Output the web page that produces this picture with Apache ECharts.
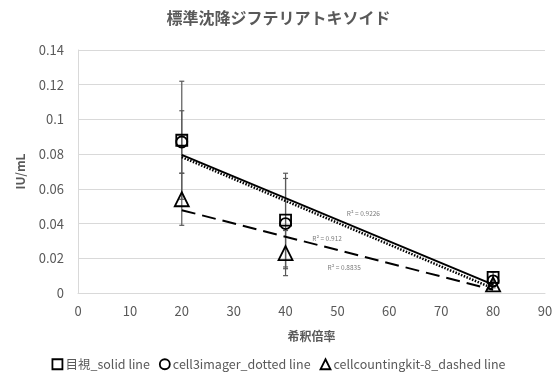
<!DOCTYPE html>
<html>
<head>
<meta charset="utf-8">
<script src="https://cdn.jsdelivr.net/npm/echarts@6/dist/echarts.min.js"></script>
<style>
  html, body { margin: 0; padding: 0; background: #fff; }
  #chart { width: 557px; height: 374px; }
</style>
</head>
<body>
<div id="chart"></div>
<script>
// Dilution factors and measured concentrations (IU/mL)
const dilution = [20, 40, 80];
const visual = [0.088, 0.042, 0.009];          // 目視
const imager = [0.087, 0.040, 0.007];          // cell3imager
const cck8 = [0.054, 0.023, 0.005];            // cellcountingkit-8
// Standard deviations
const visualErr = [0.034, 0.027, 0.003];
const imagerErr = [0.018, 0.026, 0.003];
const cck8Err = [0.015, 0.013, 0.002];
// R² values shown next to the trend lines
const r2Labels = ['R² = 0.9226', 'R² = 0.912', 'R² = 0.8835'];
const seriesNames = ['目視_solid line', 'cell3imager_dotted line', 'cellcountingkit-8_dashed line'];

const FONT = '"Noto Sans CJK JP", "Noto Sans", sans-serif';

// Least-squares fit, returned as two end points over the data range
function fit(xs, ys) {
  const n = xs.length;
  const mx = xs.reduce((a, b) => a + b, 0) / n;
  const my = ys.reduce((a, b) => a + b, 0) / n;
  let sxy = 0, sxx = 0;
  for (let i = 0; i < n; i++) {
    sxy += (xs[i] - mx) * (ys[i] - my);
    sxx += (xs[i] - mx) * (xs[i] - mx);
  }
  const k = sxy / sxx, b = my - k * mx;
  const x0 = xs[0], x1 = xs[n - 1];
  return [[x0, k * x0 + b], [x1, k * x1 + b]];
}

function errorSeries(vals, errs) {
  return {
    type: 'custom',
    silent: true,
    z: 1,
    data: dilution.map((x, i) => [x, vals[i] - errs[i], vals[i] + errs[i]]),
    renderItem: function (params, api) {
      const lo = api.coord([api.value(0), api.value(1)]);
      const hi = api.coord([api.value(0), api.value(2)]);
      const w = 2.5;
      const style = { stroke: '#595959', lineWidth: 1.2 };
      return {
        type: 'group',
        children: [
          { type: 'line', shape: { x1: lo[0], y1: lo[1], x2: hi[0], y2: hi[1] }, style },
          { type: 'line', shape: { x1: lo[0] - w, y1: lo[1], x2: lo[0] + w, y2: lo[1] }, style },
          { type: 'line', shape: { x1: hi[0] - w, y1: hi[1], x2: hi[0] + w, y2: hi[1] }, style }
        ]
      };
    }
  };
}

function markerSeries(name, vals, symbol, size) {
  return {
    name: name,
    type: 'scatter',
    z: 3,
    symbol: symbol,
    symbolSize: size,
    data: dilution.map((x, i) => [x, vals[i]]),
    itemStyle: { color: 'rgba(255,255,255,0)', borderColor: '#000', borderWidth: 1.8, opacity: 1 }
  };
}

function trendSeries(vals, lineType, width) {
  return {
    type: 'line',
    z: 2,
    symbol: 'none',
    silent: true,
    data: fit(dilution, vals),
    lineStyle: { color: '#000', width: width, type: lineType }
  };
}

// R² annotations placed beside the trend lines
const r2Pos = [[55, 0.0455], [48, 0.0311], [51.3, 0.0144]];
const r2Series = {
  type: 'scatter',
  silent: true,
  z: 4,
  symbolSize: 0,
  data: r2Pos.map((p, i) => ({ value: p, name: r2Labels[i] })),
  label: {
    show: true,
    position: 'inside',
    formatter: p => p.name,
    color: '#595959',
    fontSize: 6.5,
    fontFamily: FONT
  }
};

const chart = echarts.init(document.getElementById('chart'), null, { renderer: 'canvas' });
chart.setOption({
  animation: false,
  title: {
    text: '標準沈降ジフテリアトキソイド',
    left: 'center',
    top: 5,
    textStyle: { fontFamily: FONT, fontSize: 16, fontWeight: 'bold', color: '#595959' }
  },
  grid: { left: 78, right: 12, top: 50, bottom: 81 },
  legend: {
    top: 353,
    left: 'center',
    itemWidth: 10,
    itemHeight: 10,
    itemGap: 9,
    data: [
      { name: seriesNames[0], icon: 'rect' },
      { name: seriesNames[1], icon: 'circle' },
      { name: seriesNames[2], icon: 'triangle' }
    ],
    itemStyle: { color: '#fff', borderColor: '#000', borderWidth: 1.8 },
    textStyle: { fontFamily: FONT, fontSize: 12.5, color: '#595959', padding: [0, 0, 0, -2] }
  },
  xAxis: {
    type: 'value',
    min: 0, max: 90, interval: 10,
    name: '希釈倍率',
    nameLocation: 'middle',
    nameGap: 37,
    nameTextStyle: { fontFamily: FONT, fontSize: 12, fontWeight: 'bold', color: '#595959' },
    axisLine: { show: true, lineStyle: { color: '#d9d9d9' } },
    axisTick: { show: false },
    axisLabel: { fontFamily: FONT, fontSize: 13, color: '#595959', margin: 12 },
    splitLine: { show: false }
  },
  yAxis: {
    type: 'value',
    min: 0, max: 0.14, interval: 0.02,
    name: 'IU/mL',
    nameLocation: 'middle',
    nameGap: 52,
    nameTextStyle: { fontFamily: FONT, fontSize: 12, fontWeight: 'bold', color: '#595959' },
    axisLine: { show: true, lineStyle: { color: '#d9d9d9' } },
    axisTick: { show: false },
    axisLabel: { fontFamily: FONT, fontSize: 13, color: '#595959', margin: 14 },
    splitLine: { show: true, lineStyle: { color: '#d9d9d9', width: 1 } }
  },
  series: [
    errorSeries(visual, visualErr),
    errorSeries(imager, imagerErr),
    errorSeries(cck8, cck8Err),
    trendSeries(visual, 'solid', 2),
    trendSeries(imager, [1.5, 1.5], 2.5),
    trendSeries(cck8, [14, 7], 2),
    r2Series,
    markerSeries(seriesNames[0], visual, 'rect', 11),
    markerSeries(seriesNames[1], imager, 'circle', 11),
    markerSeries(seriesNames[2], cck8, 'triangle', 14)
  ]
});
</script>
</body>
</html>
